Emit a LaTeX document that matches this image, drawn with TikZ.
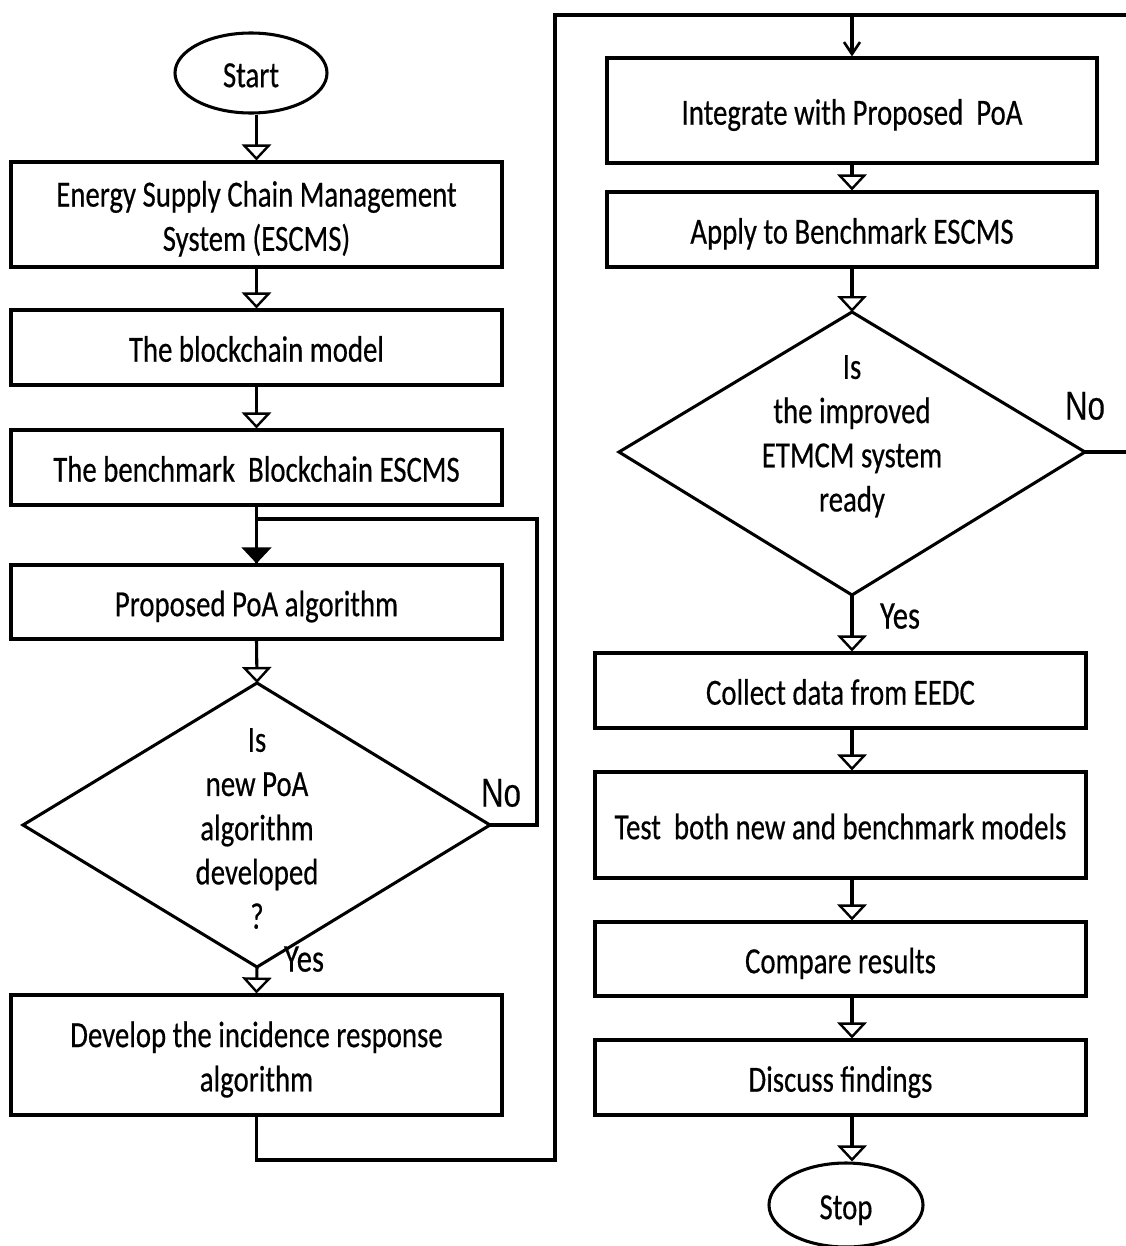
\documentclass[tikz,border=0pt]{standalone}
\usepackage{fontspec}
\usepackage{graphicx}
\setmainfont{Carlito}
\newfontfamily\chartfont{Carlito}[FakeBold=0.5]
\newfontfamily\nofont{Liberation Sans}[FakeBold=0.3]
\usetikzlibrary{arrows.meta,shapes.geometric,calc}
\newdimen\px \px=0.75pt
% text set slightly taller than wide, as in the chart, and lowered a little
\newcommand\tx[1]{\raisebox{-4pt}[\height][\depth]{\scalebox{1}[1.28]{\begin{tabular}{@{}c@{}}#1\end{tabular}}}}
\tikzset{
  flow/.style={line width=2.3pt, draw=black},
  box/.style={flow, rectangle, inner sep=0pt, minimum width=491\px, fill=white},
  term/.style={flow, ellipse, inner sep=0pt, fill=white},
  label/.style={inner sep=0pt},
  yeslabel/.style={label, font=\chartfont\fontsize{23pt}{27pt}\selectfont},
  nolabel/.style={label, font=\nofont\fontsize{23.5pt}{27pt}\selectfont},
  opentip/.style={-{Triangle[open, width=22pt, length=12pt, fill=white, line width=1.8pt]}},
  solidtip/.style={-{Triangle[width=22pt, length=12pt, fill=black]}},
  bartip/.style={-{Straight Barb[width=12pt, length=9pt, line width=2pt]}},
}
\begin{document}
\begin{tikzpicture}[x=0.75pt, y=-0.75pt,
  font=\chartfont\fontsize{21.6pt}{25.9pt}\selectfont]
\useasboundingbox (0,0) rectangle (1126,1246);
\fill[white] (0,0) rectangle (1126,1246);

% ---------- left column ----------
\node[term, minimum width=152\px, minimum height=80\px] (start) at (251,73) {\tx{Start}};
\node[box, minimum height=105\px] (b1) at (256.5,214.5) {\tx{Energy Supply Chain Management\\System (ESCMS)}};
\node[box, minimum height=75\px] (b2) at (256.5,347.5) {\tx{The blockchain model}};
\node[box, minimum height=75\px] (b3) at (256.5,467.5) {\tx{The benchmark\ \ Blockchain ESCMS}};
\node[box, minimum height=74\px] (b4) at (256.5,602) {\tx{Proposed PoA algorithm}};

\coordinate (d1t) at (257,683);
\coordinate (d1r) at (490,825);
\coordinate (d1b) at (257,967);
\coordinate (d1l) at (23,825);
\draw[flow, line join=miter] (d1t) -- (d1r) -- (d1b) -- (d1l) -- cycle;
\node[label] (d1x) at (257,826) {\tx{Is\\new PoA\\algorithm\\developed\\?}};

\node[box, minimum height=120\px] (b5) at (256.5,1055) {\tx{Develop the incidence response\\algorithm}};

% ---------- right column ----------
\node[box, minimum width=490\px, minimum height=105\px] (b6) at (852,110.5) {\tx{Integrate with Proposed\ \ PoA}};
\node[box, minimum width=490\px, minimum height=75\px] (b7) at (852,229.5) {\tx{Apply to Benchmark ESCMS}};

\coordinate (d2t) at (852,312);
\coordinate (d2r) at (1085,452);
\coordinate (d2b) at (852,595);
\coordinate (d2l) at (619,452);
\draw[flow, line join=miter] (d2t) -- (d2r) -- (d2b) -- (d2l) -- cycle;
\node[label] (d2x) at (852,431) {\tx{Is\\the improved\\ETMCM system\\ready}};

\node[box, minimum height=75\px] (b8) at (840.5,690.5) {\tx{Collect data from EEDC}};
\node[box, minimum height=106\px] (b9) at (840.5,825) {\tx{Test\ \ both new and benchmark models}};
\node[box, minimum height=74\px] (b10) at (840.5,959) {\tx{Compare results}};
\node[box, minimum height=75\px] (b11) at (840.5,1077.5) {\tx{Discuss findings}};
\node[term, minimum width=154\px, minimum height=84\px] (stop) at (846,1205) {\tx{Stop}};

% ---------- decision labels ----------
\node[nolabel] (no1) at (501,792) {\tx{No}};
\node[yeslabel] (yes1) at (304,957) {\tx{Yes}};
\node[nolabel] (no2) at (1085,405) {\tx{No}};
\node[yeslabel] (yes2) at (900,614) {\tx{Yes}};

% ---------- connectors, left ----------
\draw[flow, opentip] (b1.north |- start.south) -- (b1.north);
\draw[flow, opentip] (b1.south) -- (b2.north);
\draw[flow, opentip] (b2.south) -- (b3.north);
\draw[flow] (b3.south) -- (b4.north);
\draw[flow, opentip] (b4.south) -- (d1t);
\coordinate (noA) at (537,825);
\coordinate (noB) at (537,519);
\draw[flow, solidtip] (d1r) -- (noA) -- (noB) -- (noB -| b4.north) -- (b4.north);
\draw[flow, opentip] (d1b) -- (b5.north);

% ---------- link from left column to right column ----------
\coordinate (lk1) at (555,1160);
\coordinate (lk2) at (555,15);
\coordinate (lk3) at (1140,15);
\draw[flow] (b5.south) |- (lk1) -- (lk2) -- (lk3);
\draw[flow, bartip] (b6.north |- lk2) -- (b6.north);

% ---------- connectors, right ----------
\draw[flow, opentip] (b6.south) -- (b7.north);
\draw[flow, opentip] (b7.south) -- (d2t);
\coordinate (no2end) at (1140,452);
\draw[flow] (d2r) -- (no2end) -- (lk3);
\draw[flow, opentip] (d2b) -- (d2b |- b8.north);
\draw[flow, opentip] (b8.south -| d2b) -- (b9.north -| d2b);
\draw[flow, opentip] (b9.south -| d2b) -- (b10.north -| d2b);
\draw[flow, opentip] (b10.south -| d2b) -- (b11.north -| d2b);
\draw[flow, opentip] (b11.south -| d2b) -- (stop.north -| d2b);
\end{tikzpicture}
\end{document}
